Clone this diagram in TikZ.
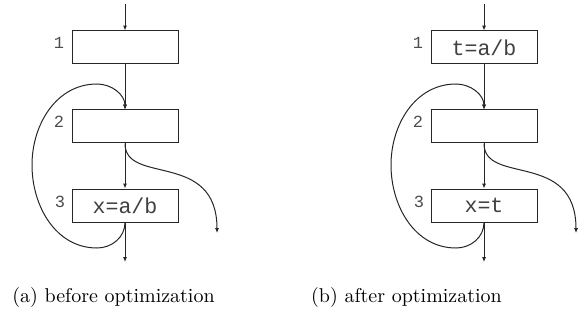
\documentclass[tikz,border=0pt]{standalone}
\usepackage{fontspec}
\newfontfamily\monofam{Liberation Mono}
\usetikzlibrary{arrows.meta}
\newcommand{\cfgpanel}[4]{%
\begin{scope}[xshift=#1*0.5pt]
  \coordinate (#2in) at (125,-4);
  \node[blk] (#2b1) at (125,-47.5) {#3};
  \node[blk] (#2b2) at (125,-126.5) {};
  \node[blk] (#2b3) at (125,-205.5) {#4};
  \node[lbl] (#2l1) at (59,-43) {1};
  \node[lbl] (#2l2) at (59,-122) {2};
  \node[lbl] (#2l3) at (60,-202) {3};
  \coordinate (#2out) at (125,-262);
  \coordinate (#2exit) at (217,-233);
  \coordinate (#2lb) at (97,-248);
  \coordinate (#2ll) at (32,-165);
  \coordinate (#2lt) at (97,-84);
  \draw[arr] (#2in) -- (#2b1);
  \draw[arr] (#2b1) -- (#2b2);
  \draw[arr] (#2b2) -- (#2b3);
  \draw[arr] (#2b3) -- (#2out);
  \draw[arr] (#2b2.south) .. controls +(0,-42) and +(0,83) .. (#2exit);
  \draw[arr] (#2b3.south) to[out=-90,in=0] (#2lb) to[out=180,in=-90] (#2ll)
     to[out=90,in=180] (#2lt) to[out=0,in=90] (#2b2.north);
\end{scope}}
\begin{document}
\begin{tikzpicture}[x=0.5pt,y=0.5pt,
  line width=0.5pt,
  arr/.style={draw=black!85,-{Latex[length=2.4pt,width=2pt]}},
  blk/.style={draw=black!85,rectangle,minimum width=53pt,minimum height=16.5pt,inner sep=0pt,text=black!75,font=\monofam\fontsize{10.8}{12}\selectfont},
  lbl/.style={inner sep=0pt,text=black!70,font=\monofam\fontsize{8.5}{10}\selectfont},
  captext/.style={inner sep=0pt,font=\fontsize{10}{12}\selectfont}]
\useasboundingbox (0,0) rectangle (582,-320);
\cfgpanel{0}{a}{}{x=a/b}
\cfgpanel{359}{b}{t=a/b}{x=t}
\node[captext] (capa) at (113.5,-297) {(a) before optimization};
\node[captext] (capb) at (406.5,-297) {(b) after optimization};
\end{tikzpicture}
\end{document}
